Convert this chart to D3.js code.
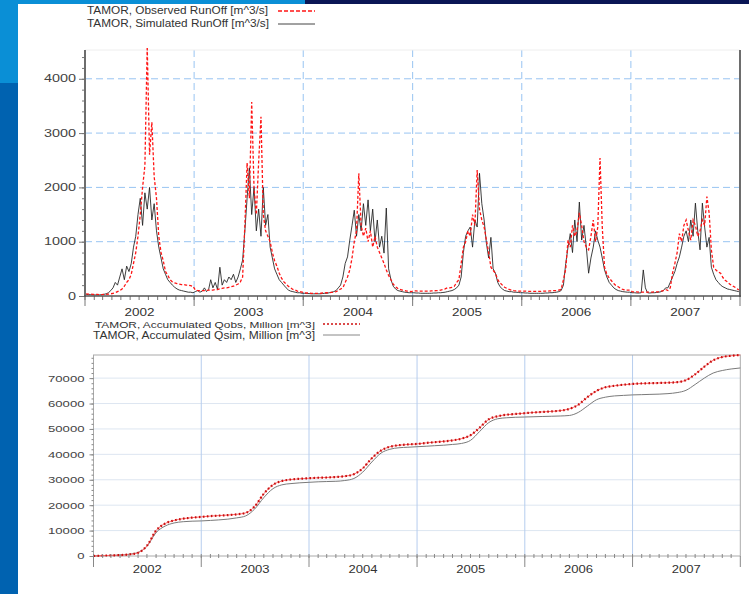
<!DOCTYPE html>
<html>
<head>
<meta charset="utf-8">
<script src="https://cdn.jsdelivr.net/npm/d3@7"></script>
<style>
body { margin: 0; background: #fff; }
svg { display: block; font-family: "Liberation Sans", Arial, sans-serif; }
</style>
</head>
<body>
<script>
// ---- data ----
const years = [2002, 2003, 2004, 2005, 2006, 2007];
const yearLabels = ['2002', '2003', '2004', '2005', '2006', '2007'];
const runoffTicks = [0, 1000, 2000, 3000, 4000];
const volumeTicks = [0, 10000, 20000, 30000, 40000, 50000, 60000, 70000];

// runoff [m^3/s], 4 values per month (quarter months)
const obsRunoff2002 = [40,35,35,30, 30,30,25,25, 30,30,35,40, 50,60,80,100, 130,180,250,300, 400,600,800,1100, 1500,2000,2400,4600, 2600,3200,2200,1800, 1100,800,650,450, 380,300,260,240, 230,220,210,210, 200,200,190,180];
const obsRunoff2003 = [110,100,100,100, 100,100,110,110, 110,120,120,130, 140,150,150,160, 170,180,200,220, 260,350,1300,2450, 1800,3570,2000,1500, 2470,3300,1500,1200, 1100,1000,800,650, 550,420,330,260, 220,180,150,120, 110,90,80,70];
const obsRunoff2004 = [60,55,55,50, 50,50,50,50, 55,55,60,60, 65,70,80,100, 130,150,250,350, 480,700,1000,1200, 2260,1300,1100,1250, 1000,1200,900,1100, 900,800,700,600, 480,380,300,220, 170,140,120,110, 100,90,85,80];
const obsRunoff2005 = [95,95,90,90, 90,90,90,90, 95,95,100,100, 110,120,130,150, 150,160,180,250, 300,600,900,1000, 1200,1100,1500,1300, 2320,1600,1400,1270, 1030,800,530,470, 420,300,240,200, 160,140,120,110, 100,95,90,90];
const obsRunoff2006 = [90,90,85,85, 85,85,85,85, 85,90,90,90, 95,95,100,100, 110,120,300,500, 1030,900,1300,1100, 1200,1530,1300,1000, 900,850,1100,1400, 1000,1270,2540,1270, 530,400,330,280, 230,190,170,140, 120,110,110,110];
const obsRunoff2007 = [80,75,75,70, 70,70,70,70, 70,70,75,75, 80,90,100,120, 100,150,420,600, 800,1150,1000,1300, 1400,1200,1030,1400, 1300,1100,1200,1400, 1300,1830,1530,850, 530,480,440,420, 340,290,260,220, 190,170,140,110];

const simRunoff2002 = [30,25,25,20, 20,20,20,25, 30,40,60,100, 150,250,200,350, 500,300,550,450, 600,900,1100,1500, 1800,1300,1900,1600, 2000,1400,1700,1200, 900,700,500,400, 300,250,200,160, 130,110,100,90, 80,70,70,60];
const simRunoff2003 = [80,100,70,90, 150,80,120,300, 150,250,120,530, 200,300,250,350, 300,400,250,350, 500,660,1200,1800, 2360,1500,2000,1200, 1600,1100,2000,1300, 1500,900,700,500, 400,300,250,200, 150,110,90,80, 70,60,60,50];
const simRunoff2004 = [50,45,45,40, 40,40,40,40, 45,50,50,60, 70,80,100,150, 200,350,600,720, 1030,1300,1580,1100, 1500,1200,1700,1300, 1770,1200,1600,1000, 1400,900,1100,790, 1620,500,300,180, 130,100,90,80, 70,65,60,60];
const simRunoff2005 = [60,55,55,50, 50,50,50,50, 50,55,55,60, 60,65,70,80, 90,100,120,150, 200,350,800,1100, 1200,1270,900,1400, 1270,2260,1700,1400, 970,700,1080,500, 420,250,170,130, 100,90,80,80, 70,70,65,60];
const simRunoff2006 = [60,55,55,50, 50,50,50,50, 50,50,55,55, 60,60,65,70, 80,100,200,600, 900,1150,800,1400, 1000,1730,1030,1300, 900,420,700,900, 1200,1030,900,700, 480,350,250,200, 150,120,100,90, 80,75,70,70];
const simRunoff2007 = [60,60,55,55, 60,480,150,60, 55,60,60,65, 70,80,100,150, 150,250,350,450, 600,720,900,1100, 1200,1000,1400,1100, 1710,1200,850,1710, 1270,900,1080,530, 400,300,250,200, 170,150,130,120, 110,100,90,80];

// accumulated volume [million m^3], at each month boundary from Jan 2002
const accObs = [0,
  150,250,350,600,1300,4000,10000,12800,14000,14700,15100,15400,
  15700,15900,16100,16400,17000,19500,24500,28000,29500,30100,30400,30600,
  30800,30900,31100,31400,32200,34500,38500,41500,43000,43600,43900,44100,
  44500,44800,45100,45500,46200,47500,50500,53800,55000,55600,55900,56200,
  56500,56700,56900,57200,57900,59500,62500,65000,66400,67000,67400,67700,
  67900,68000,68100,68200,68400,69200,71500,74500,77000,78300,78800,79100];
const accSim = [0,
  120,220,350,700,1400,3800,9200,11800,13000,13500,13700,13800,
  14000,14200,14500,15000,15800,18500,23000,26500,28000,28500,28800,29000,
  29200,29300,29400,29700,30500,33000,37000,40500,42000,42600,42800,43000,
  43200,43400,43600,43900,44300,45500,49000,52500,54000,54400,54600,54700,
  54800,54900,55000,55100,55300,56500,59000,61500,62500,63000,63200,63400,
  63500,63600,63700,63900,64300,65200,67500,70000,72000,73000,73600,74000];

const obsRunoff = [obsRunoff2002, obsRunoff2003, obsRunoff2004, obsRunoff2005, obsRunoff2006, obsRunoff2007];
const simRunoff = [simRunoff2002, simRunoff2003, simRunoff2004, simRunoff2005, simRunoff2006, simRunoff2007];

function quarterMonthSeries(perYear) {
    return perYear.flatMap((vals, k) => vals.map((v, i) => {
        const a = new Date(years[k], Math.floor(i / 4), 1);
        const b = new Date(years[k], Math.floor(i / 4) + 1, 1);
        return { date: new Date(+a + ((i % 4) + 0.5) / 4 * (b - a)), value: v };
    }));
}
function monthSeries(vals) {
    return vals.map((v, i) => ({ date: new Date(2002, i, 1), value: v }));
}

const t0 = new Date(2002, 0, 1), t1 = new Date(2008, 0, 1);
const months = d3.timeMonth.range(t0, t1);
const yearStarts = years.map(y => new Date(y, 0, 1)).concat([t1]);

const svg = d3.select('body').append('svg').attr('width', 749).attr('height', 594);

// slide background
svg.append('rect').attr('width', 749).attr('height', 594).attr('fill', '#fff');
svg.append('rect').attr('x', 0).attr('y', 0).attr('width', 18).attr('height', 83).attr('fill', '#0a8fd6');
svg.append('rect').attr('x', 0).attr('y', 83).attr('width', 18).attr('height', 511).attr('fill', '#0062b0');
svg.append('rect').attr('x', 0).attr('y', 0).attr('width', 305).attr('height', 4).attr('fill', '#0a8fd6');
svg.append('rect').attr('x', 305).attr('y', 0).attr('width', 444).attr('height', 4).attr('fill', '#0a1655');

function label(g, x, y, txt, size, len, anchor) {
    return g.append('text').attr('x', x).attr('y', y).attr('font-size', size)
        .attr('fill', '#333').attr('text-anchor', anchor || 'start')
        .attr('textLength', len).attr('lengthAdjust', 'spacingAndGlyphs').text(txt);
}

// ================= top chart: runoff =================
const xTop = d3.scaleTime().domain([t0, t1]).range([85, 740]);
const yTop = d3.scaleLinear().domain([0, 4530]).range([296, 50]);
const topG = svg.append('g');

topG.selectAll('.hgrid').data(runoffTicks.slice(1)).enter().append('line')
    .attr('x1', 85).attr('x2', 740).attr('y1', d => yTop(d)).attr('y2', d => yTop(d))
    .attr('stroke', '#98c4f2').attr('stroke-dasharray', '7,4');
topG.selectAll('.vgrid').data(yearStarts.slice(1, -1)).enter().append('line')
    .attr('x1', d => xTop(d)).attr('x2', d => xTop(d)).attr('y1', 50).attr('y2', 296)
    .attr('stroke', '#98c4f2').attr('stroke-dasharray', '7,4');
topG.append('line').attr('x1', 85).attr('x2', 740).attr('y1', 50).attr('y2', 50).attr('stroke', '#eee');

svg.append('clipPath').attr('id', 'clipTop').append('rect')
    .attr('x', 85).attr('y', 48).attr('width', 655).attr('height', 248);

const lineTop = d3.line().x(d => xTop(d.date)).y(d => yTop(d.value));
topG.append('path').datum(quarterMonthSeries(simRunoff)).attr('clip-path', 'url(#clipTop)')
    .attr('d', lineTop).attr('fill', 'none').attr('stroke', '#1e1e1e').attr('stroke-width', 1).attr('opacity', 0.85);
topG.append('path').datum(quarterMonthSeries(obsRunoff)).attr('clip-path', 'url(#clipTop)')
    .attr('d', lineTop).attr('fill', 'none').attr('stroke', '#ff1414').attr('stroke-width', 1.3)
    .attr('stroke-dasharray', '3,2');

// y axis
const yAxTop = topG.append('g').attr('transform', 'translate(85,0)')
    .call(d3.axisLeft(yTop).tickValues(d3.range(0, 4530, 200)).tickSize(3).tickFormat(''));
yAxTop.append('g').call(d3.axisLeft(yTop).tickValues(runoffTicks).tickSize(6).tickPadding(3).tickFormat(d3.format('d')));
yAxTop.selectAll('.domain').remove();
yAxTop.selectAll('line').attr('stroke', '#777');
yAxTop.selectAll('text').attr('font-size', 10).attr('fill', '#444')
    .attr('font-family', '"Liberation Sans", Arial, sans-serif')
    .attr('textLength', function () { return this.textContent.length * 8; })
    .attr('lengthAdjust', 'spacingAndGlyphs');
topG.append('line').attr('x1', 85).attr('x2', 85).attr('y1', 50).attr('y2', 297).attr('stroke', '#6d6d6d').attr('stroke-width', 2);
topG.append('line').attr('x1', 740).attr('x2', 740).attr('y1', 50).attr('y2', 297).attr('stroke', '#6d6d6d').attr('stroke-width', 2);

// x axis
topG.selectAll('.mtick').data(months).enter().append('line')
    .attr('x1', d => xTop(d)).attr('x2', d => xTop(d)).attr('y1', 296).attr('y2', 300)
    .attr('stroke', '#777');
topG.selectAll('.ytick').data(yearStarts).enter().append('line')
    .attr('x1', d => xTop(d)).attr('x2', d => xTop(d)).attr('y1', 296).attr('y2', 306)
    .attr('stroke', '#777');
topG.append('line').attr('x1', 84).attr('x2', 741).attr('y1', 296).attr('y2', 296).attr('stroke', '#555').attr('stroke-width', 1.5);
yearLabels.forEach((s, i) => label(topG, xTop(new Date(years[i], 6, 2)), 315.5, s, 10.5, 30, 'middle'));

// legend
label(topG, 87, 14, 'TAMOR, Observed RunOff [m^3/s]', 10, 181);
label(topG, 87, 27, 'TAMOR, Simulated RunOff [m^3/s]', 10, 182);
topG.append('line').attr('x1', 278).attr('x2', 315).attr('y1', 11).attr('y2', 11)
    .attr('stroke', '#ff1414').attr('stroke-width', 1.3).attr('stroke-dasharray', '4,2');
topG.append('line').attr('x1', 278).attr('x2', 315).attr('y1', 24).attr('y2', 24)
    .attr('stroke', '#444').attr('stroke-width', 1);

// ================= bottom chart: accumulated volume =================
const xBot = d3.scaleTime().domain([t0, t1]).range([93.5, 740.3]);
const yBot = d3.scaleLinear().domain([0, 79100]).range([556, 355]);
const botG = svg.append('g');

botG.selectAll('.hgrid').data(volumeTicks.slice(1)).enter().append('line')
    .attr('x1', 93.5).attr('x2', 740.3).attr('y1', d => yBot(d)).attr('y2', d => yBot(d))
    .attr('stroke', '#dde6f1');
botG.selectAll('.vgrid').data(yearStarts.slice(1, -1)).enter().append('line')
    .attr('x1', d => xBot(d)).attr('x2', d => xBot(d)).attr('y1', 355).attr('y2', 556)
    .attr('stroke', '#b6cdee');
botG.append('rect').attr('x', 93.5).attr('y', 355).attr('width', 646.8).attr('height', 201)
    .attr('fill', 'none').attr('stroke', '#aaa');

const lineBot = d3.line().curve(d3.curveMonotoneX).x(d => xBot(d.date)).y(d => yBot(d.value));
botG.append('path').datum(monthSeries(accSim)).attr('d', lineBot)
    .attr('fill', 'none').attr('stroke', '#7a7a7a').attr('stroke-width', 1);
botG.append('path').datum(monthSeries(accObs)).attr('d', lineBot)
    .attr('fill', 'none').attr('stroke', '#ff6a6a').attr('stroke-width', 1);
botG.append('path').datum(monthSeries(accObs)).attr('d', lineBot)
    .attr('fill', 'none').attr('stroke', '#c80f0f').attr('stroke-width', 2.2).attr('stroke-dasharray', '1.6,2.4');

const yAxBot = botG.append('g').attr('transform', 'translate(93.5,0)')
    .call(d3.axisLeft(yBot).tickValues(d3.range(0, 79100, 2000)).tickSize(2).tickFormat(''));
yAxBot.append('g').call(d3.axisLeft(yBot).tickValues(volumeTicks).tickSize(4).tickPadding(5).tickFormat(d3.format('d')));
yAxBot.selectAll('.domain').remove();
yAxBot.selectAll('line').attr('stroke', '#888');
yAxBot.selectAll('text').attr('font-size', 9).attr('fill', '#444')
    .attr('font-family', '"Liberation Sans", Arial, sans-serif')
    .attr('textLength', function () { return this.textContent.length * 7.3; })
    .attr('lengthAdjust', 'spacingAndGlyphs');

botG.selectAll('.mtick').data(months).enter().append('line')
    .attr('x1', d => xBot(d)).attr('x2', d => xBot(d)).attr('y1', 554).attr('y2', 558)
    .attr('stroke', '#888');
botG.selectAll('.ytick').data(yearStarts).enter().append('line')
    .attr('x1', d => xBot(d)).attr('x2', d => xBot(d)).attr('y1', 556).attr('y2', 567)
    .attr('stroke', '#888');
yearLabels.forEach((s, i) => label(botG, xBot(new Date(years[i], 6, 2)), 573, s, 10, 29, 'middle'));

// legend (first line partly hidden under the upper chart)
svg.append('clipPath').attr('id', 'clipLeg').append('rect')
    .attr('x', 80).attr('y', 322).attr('width', 320).attr('height', 8);
const leg = botG.append('g').attr('clip-path', 'url(#clipLeg)');
label(leg, 95, 327.5, 'TAMOR, Accumulated Qobs, Million [m^3]', 9, 220);
leg.append('line').attr('x1', 323).attr('x2', 360).attr('y1', 324).attr('y2', 324)
    .attr('stroke', '#d01010').attr('stroke-width', 1.5).attr('stroke-dasharray', '2,2');
label(botG, 93, 339, 'TAMOR, Accumulated Qsim, Million [m^3]', 10, 222);
botG.append('line').attr('x1', 323).attr('x2', 360).attr('y1', 335).attr('y2', 335)
    .attr('stroke', '#888').attr('stroke-width', 1);
</script>
</body>
</html>
